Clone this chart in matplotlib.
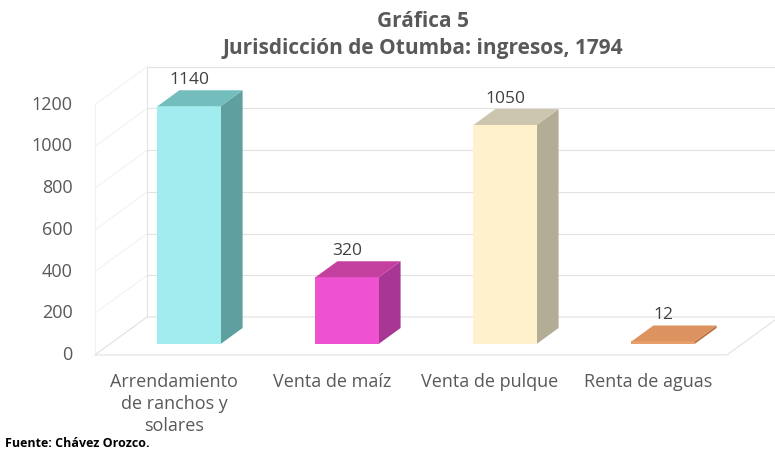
"""Gráfica 5: Jurisdicción de Otumba, ingresos 1794 (barras 3D estilo Excel)."""

import matplotlib

matplotlib.use("Agg")
import matplotlib.pyplot as plt
from matplotlib.patches import Polygon

# Datos
categories = ["Arrendamiento\nde ranchos y\nsolares", "Venta de maíz", "Venta de pulque", "Renta de aguas"]
values = [1140, 320, 1050, 12]
y_ticks = [0, 200, 400, 600, 800, 1000, 1200]

front_colors = ["#A0ECEE", "#EE52D0", "#FFF1CB", "#E8A06A"]
side_colors = ["#5E9FA0", "#A83694", "#B3AD96", "#C07040"]
top_colors = ["#74BDBD", "#C3409F", "#CDC6AE", "#DD9360"]

# Proyección oblicua: profundidad z en [0, 1]
DX = 0.33   # desplazamiento horizontal de la profundidad total (unidades de categoría)
DY = 182    # desplazamiento vertical de la profundidad total (unidades de valor)
BAR_W = 0.40
Z0, Z1 = 0.29, 0.71
TOP = 1200  # altura del muro trasero


def proj(x, z, v):
    return (x + z * DX, v + z * DY)


fig = plt.figure(figsize=(7.75, 4.54), dpi=100)
ax = fig.add_axes([0, 0, 1, 1])
ax.set_xlim(-1.101, 3.804)
ax.set_ylim(-475, 1702)
ax.axis("off")

grid_col = "#E2E2E2"
wall_col = "#F2F2F2"
x_left, x_right = -0.5, len(values) - 0.5

# Muro izquierdo (muy tenue) y trasero
for t in y_ticks:
    xs, ys = zip(proj(x_left, 0, t), proj(x_left, 1, t))
    ax.plot(xs, ys, color=wall_col, lw=0.8, zorder=1)
    xs, ys = zip(proj(x_left, 1, t), proj(x_right, 1, t))
    ax.plot(xs, ys, color=grid_col, lw=0.8, zorder=1)
xs, ys = zip(proj(x_left, 0, 0), proj(x_left, 0, TOP))
ax.plot(xs, ys, color=wall_col, lw=0.8, zorder=1)
xs, ys = zip(proj(x_left, 1, 0), proj(x_left, 1, TOP))
ax.plot(xs, ys, color=grid_col, lw=0.8, zorder=1)

# Piso
floor = [proj(x_left, 0, 0), proj(x_right, 0, 0), proj(x_right, 1, 0), proj(x_left, 1, 0)]
ax.add_patch(Polygon(floor, closed=True, facecolor="white", edgecolor=grid_col, lw=0.8, zorder=1))

# Barras
for i, v in enumerate(values):
    xl, xr = i - BAR_W / 2, i + BAR_W / 2
    front = [proj(xl, Z0, 0), proj(xr, Z0, 0), proj(xr, Z0, v), proj(xl, Z0, v)]
    side = [proj(xr, Z0, 0), proj(xr, Z1, 0), proj(xr, Z1, v), proj(xr, Z0, v)]
    top = [proj(xl, Z0, v), proj(xr, Z0, v), proj(xr, Z1, v), proj(xl, Z1, v)]
    ax.add_patch(Polygon(side, closed=True, facecolor=side_colors[i], edgecolor="none", zorder=3))
    ax.add_patch(Polygon(front, closed=True, facecolor=front_colors[i], edgecolor="none", zorder=3))
    ax.add_patch(Polygon(top, closed=True, facecolor=top_colors[i], edgecolor="none", zorder=3))
    lx, ly = proj(i, Z1, v)
    ax.text(i + Z0 * DX, ly + 12, str(v), ha="center", va="bottom",
            fontsize=12.5, family="Open Sans", color="#404040", zorder=4)

# Etiquetas del eje Y (plano frontal)
for t in y_ticks:
    ax.text(-0.64, t, str(t), ha="right", va="center",
            fontsize=13, family="Open Sans", color="#595959")

# Etiquetas de categorías
for i, c in enumerate(categories):
    ax.text(i, -85, c, ha="center", va="top", fontsize=13, family="Open Sans",
            color="#595959", linespacing=1.3)

# Títulos
fig.text(0.546, 0.952, "Gráfica 5", ha="center", va="center", fontsize=15,
         family="Open Sans", fontweight="bold", color="#595959")
fig.text(0.546, 0.893, "Jurisdicción de Otumba: ingresos, 1794", ha="center", va="center",
         fontsize=15, family="Open Sans", fontweight="bold", color="#595959")
fig.text(0.006, 0.008, "Fuente: Chávez Orozco.", ha="left", va="bottom", fontsize=9,
         family="Open Sans", fontweight="bold", color="black")

fig.savefig("out.png", dpi=100)
